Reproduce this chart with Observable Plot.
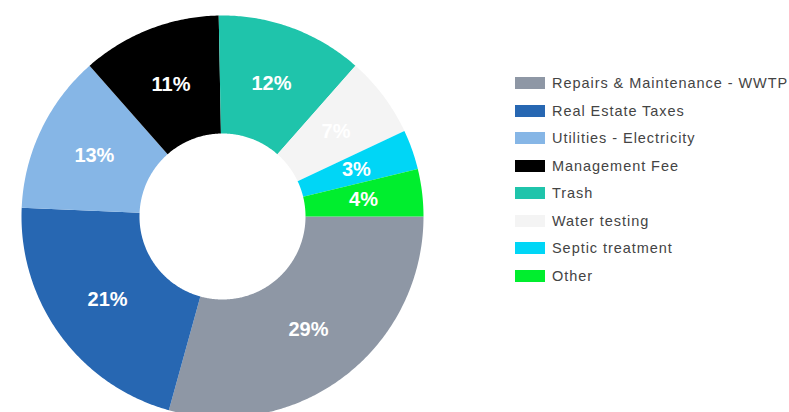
<!DOCTYPE html>
<html>
<head>
<meta charset="utf-8">
<script src="https://cdn.jsdelivr.net/npm/d3@7"></script>
<script src="https://cdn.jsdelivr.net/npm/@observablehq/plot@0.6"></script>
<style>
  html, body { margin: 0; padding: 0; background: #fff; }
  #wrap { position: relative; width: 789px; height: 412px; overflow: hidden; font-family: "Liberation Sans", Arial, sans-serif; }
  #chart { position: absolute; left: 0; top: 0; }
  #legend { position: absolute; left: 515px; top: 69.5px; }
  .row { display: flex; align-items: center; height: 27.5px; }
  .sw { width: 30px; height: 12px; margin-right: 7px; }
  .lab { font-size: 14.5px; color: #444; letter-spacing: 0.95px; white-space: nowrap; }
</style>
</head>
<body>
<div id="wrap"><div id="chart"></div><div id="legend"></div></div>
<script>
const categories = ["Repairs & Maintenance - WWTP", "Real Estate Taxes", "Utilities - Electricity", "Management Fee", "Trash", "Water testing", "Septic treatment", "Other"];
const shares = [29.3, 21.4, 12.8, 11.2, 11.8, 6.5, 3.2, 3.8];
const colors = ["#8e97a5", "#2767b2", "#86b6e6", "#000000", "#1fc4ab", "#f4f4f4", "#00d6f6", "#00ee2e"];

const data = categories.map((c, i) => ({category: c, value: shares[i], label: Math.round(shares[i]) + "%"}));

const R = 1, r0 = 0.413;
const arcs = d3.pie().sort(null).value(d => d.value).startAngle(Math.PI / 2).endAngle(Math.PI / 2 + 2 * Math.PI)(data);

const poly = [];
const labels = [];
for (const a of arcs) {
  const n = Math.max(2, Math.ceil((a.endAngle - a.startAngle) / 0.01));
  for (let k = 0; k <= n; k++) {
    const t = a.startAngle + (a.endAngle - a.startAngle) * k / n;
    poly.push({category: a.data.category, x: R * Math.sin(t), y: R * Math.cos(t)});
  }
  for (let k = n; k >= 0; k--) {
    const t = a.startAngle + (a.endAngle - a.startAngle) * k / n;
    poly.push({category: a.data.category, x: r0 * Math.sin(t), y: r0 * Math.cos(t)});
  }
  const m = (a.startAngle + a.endAngle) / 2, rm = (R + r0) / 2;
  labels.push({label: a.data.label, x: rm * Math.sin(m), y: rm * Math.cos(m)});
}

const W = 450, H = 412, cx = 222, cy = 216, pr = 201;
const chart = Plot.plot({
  width: W, height: H,
  margin: 0,
  x: {domain: [-cx / pr, (W - cx) / pr], axis: null},
  y: {domain: [-(H - cy) / pr, cy / pr], axis: null},
  color: {domain: categories, range: colors},
  style: {fontFamily: "'Liberation Sans', Arial, sans-serif", background: "#fff"},
  marks: [
    Plot.line(poly, {x: "x", y: "y", z: "category", fill: "category", stroke: "none"}),
    Plot.text(labels, {x: "x", y: "y", text: "label", fill: "white", fontSize: 20, fontWeight: "bold"})
  ]
});
document.getElementById("chart").appendChild(chart);

const legend = document.getElementById("legend");
categories.forEach((c, i) => {
  const row = document.createElement("div");
  row.className = "row";
  const sw = document.createElement("div");
  sw.className = "sw";
  sw.style.background = colors[i];
  const lab = document.createElement("div");
  lab.className = "lab";
  lab.textContent = c;
  row.appendChild(sw); row.appendChild(lab);
  legend.appendChild(row);
});
</script>
</body>
</html>
